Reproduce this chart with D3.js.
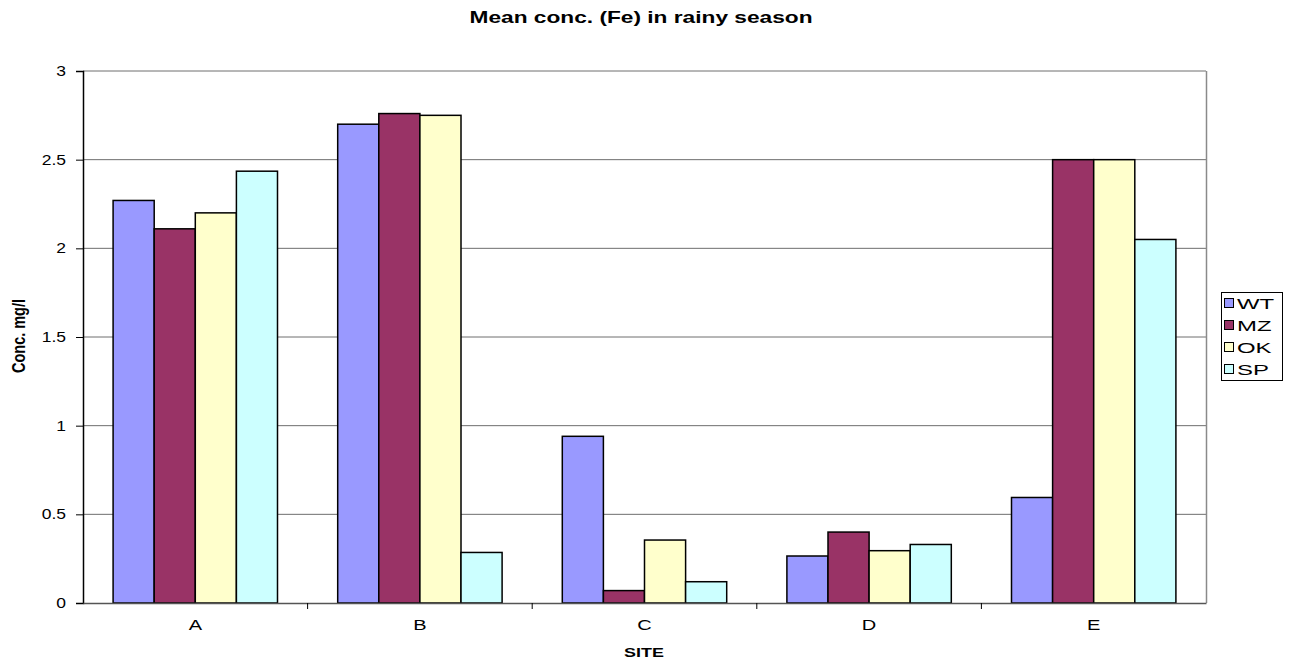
<!DOCTYPE html>
<html>
<head>
<meta charset="utf-8">
<script src="https://cdn.jsdelivr.net/npm/d3@7"></script>
<style>
  body { margin: 0; background: #fff; }
  text { font-family: Arial, "Liberation Sans", sans-serif; }
</style>
</head>
<body>
<svg id="chart" width="1290" height="665"></svg>
<script>
// Mean iron concentration by site, rainy season
const sites = ["A", "B", "C", "D", "E"];
const seriesNames = ["WT", "MZ", "OK", "SP"];
const seriesColors = ["#9999FF", "#993366", "#FFFFCC", "#CCFFFF"];
const WT = [2.27, 2.70, 0.94, 0.265, 0.595];
const MZ = [2.11, 2.76, 0.07, 0.40, 2.50];
const OK = [2.20, 2.75, 0.355, 0.295, 2.50];
const SP = [2.435, 0.285, 0.12, 0.33, 2.05];
const yTicks = [0, 0.5, 1, 1.5, 2, 2.5, 3];
const yTickLabels = ["0", "0.5", "1", "1.5", "2", "2.5", "3"];

const seriesValues = [WT, MZ, OK, SP];

const svg = d3.select("#chart");
const plotL = 83, plotR = 1206, plotT = 71, plotB = 603;
// text in this chart is set wide
const wideX = 1.38;

const y = d3.scaleLinear().domain([0, 3]).range([plotB, plotT]);
const x = d3.scaleBand().domain(sites).range([plotL, plotR]).padding(0);
const gap = x.bandwidth() * 0.134;
const xs = d3.scaleBand().domain(seriesNames).range([gap, x.bandwidth() - gap]).padding(0);

// gridlines
svg.append("g")
  .selectAll("line")
  .data(yTicks.filter(d => d > 0))
  .join("line")
  .attr("x1", plotL).attr("x2", plotR)
  .attr("y1", d => y(d)).attr("y2", d => y(d))
  .attr("stroke", "#6e6e6e").attr("stroke-width", 1);

// right border of plot area
svg.append("line")
  .attr("x1", plotR + 0.5).attr("x2", plotR + 0.5)
  .attr("y1", plotT).attr("y2", plotB)
  .attr("stroke", "#8a8a8a").attr("stroke-width", 1.5);

// bars
const groups = svg.append("g").selectAll("g")
  .data(sites)
  .join("g")
  .attr("transform", d => `translate(${x(d)},0)`);

groups.selectAll("rect")
  .data((d, i) => seriesNames.map((s, j) => ({ s, j, v: seriesValues[j][i] })))
  .join("rect")
  .attr("x", d => xs(d.s))
  .attr("width", xs.bandwidth())
  .attr("y", d => y(d.v))
  .attr("height", d => y(0) - y(d.v))
  .attr("fill", d => seriesColors[d.j])
  .attr("stroke", "#000")
  .attr("stroke-width", 1.5);

// y axis
const yAxis = d3.axisLeft(y)
  .tickValues(yTicks)
  .tickFormat((d, i) => yTickLabels[i])
  .tickSize(7);
const gy = svg.append("g").attr("transform", `translate(${plotL},0)`).call(yAxis);
gy.select(".domain").attr("stroke", "#000").attr("stroke-width", 1.5);
gy.selectAll(".tick line").attr("stroke", "#000");
gy.selectAll(".tick text")
  .attr("font-size", 14).attr("fill", "#000")
  .attr("x", -17 / 1.25)
  .attr("transform", "scale(1.25,1)");

// x axis
const xAxis = d3.axisBottom(x).tickSize(0).tickPadding(17);
const gx = svg.append("g").attr("transform", `translate(0,${plotB})`).call(xAxis);
gx.select(".domain").attr("stroke", "#555").attr("stroke-width", 1.5);
gx.selectAll(".tick text")
  .attr("font-size", 14.5).attr("fill", "#000")
  .attr("transform", `scale(${wideX},1)`);

// category divider ticks
svg.append("g").selectAll("line")
  .data(sites.slice(1))
  .join("line")
  .attr("x1", d => x(d)).attr("x2", d => x(d))
  .attr("y1", plotB).attr("y2", plotB + 6)
  .attr("stroke", "#000");

// titles
svg.append("text")
  .attr("transform", "translate(641,22.5) scale(1.42,1)")
  .attr("text-anchor", "middle")
  .attr("font-size", 16).attr("font-weight", "bold")
  .text("Mean conc. (Fe) in rainy season");

svg.append("text")
  .attr("transform", `translate(644,657) scale(${wideX},1)`)
  .attr("text-anchor", "middle")
  .attr("font-size", 13).attr("font-weight", "bold")
  .text("SITE");

svg.append("text")
  .attr("transform", "translate(25,336) scale(1.3,1) rotate(-90)")
  .attr("text-anchor", "middle")
  .attr("font-size", 14.5).attr("font-weight", "bold")
  .text("Conc. mg/l");

// legend
const lg = svg.append("g");
lg.append("rect")
  .attr("x", 1221.5).attr("y", 292.5)
  .attr("width", 61).attr("height", 88)
  .attr("fill", "#fff").attr("stroke", "#000").attr("stroke-width", 1);
const items = lg.selectAll("g.item")
  .data(seriesNames)
  .join("g")
  .attr("class", "item")
  .attr("transform", (d, i) => `translate(1224,${303 + i * 22})`);
items.append("rect")
  .attr("x", 0.5).attr("y", -4.5)
  .attr("width", 9).attr("height", 9)
  .attr("fill", (d, i) => seriesColors[i])
  .attr("stroke", "#000").attr("stroke-width", 1);
items.append("text")
  .attr("transform", "translate(13,5.5) scale(1.65,1)")
  .attr("font-size", 14.5)
  .text(d => d);
</script>
</body>
</html>
